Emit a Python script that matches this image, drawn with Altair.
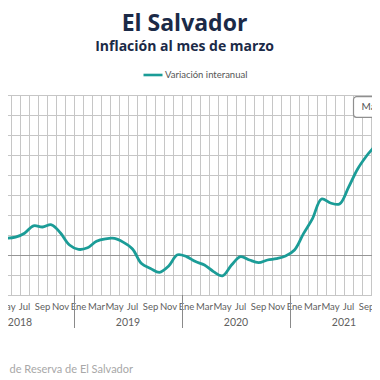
import altair as alt
import pandas as pd

# ---- data ----
MONTHS_ES = ["Ene", "Feb", "Mar", "Abr", "May", "Jun", "Jul", "Ago", "Sep", "Oct", "Nov", "Dic"]
START_YEAR = 2018
START_MONTH = 4  # abril 2018
inflacion_2018 = [0.88, 0.84, 0.89, 1.09, 1.46, 1.40, 1.51, 1.10, 0.50]
inflacion_2019 = [0.28, 0.36, 0.69, 0.81, 0.83, 0.63, 0.30, -0.43, -0.67, -0.87, -0.56, 0.01]
inflacion_2020 = [-0.08, -0.33, -0.50, -0.83, -1.04, -0.50, -0.08, -0.25, -0.38, -0.25, -0.18, -0.05]
inflacion_2021 = [0.25, 1.07, 1.82, 2.80, 2.60, 2.55, 3.38, 4.29, 4.95, 5.50, 6.30]
years = [2018, 2019, 2020, 2021]
y_grid = list(range(-2, 9))
serie = "Variación interanual"
titulo = "El Salvador"
subtitulo = "Inflación al mes de marzo"
fuente = "Fuente: Banco Central de Reserva de El Salvador"
tooltip_txt = "Mar. 2022"

values = inflacion_2018 + inflacion_2019 + inflacion_2020 + inflacion_2021
m0 = (START_YEAR - 2018) * 12 + START_MONTH - 1
t_center = [m0 + i + 0.5 for i in range(len(values))]

W, H = 364, 200
PX_PER_MONTH = 9.0
T0 = 12 - 66 / PX_PER_MONTH
T1 = T0 + W / PX_PER_MONTH
HALF = 0.5 / PX_PER_MONTH  # half-pixel so rules are crisp

line_df = pd.DataFrame({"t": t_center, "v": values, "serie": serie})
vgrid_df = pd.DataFrame({"t": [m + HALF for m in range(5, 46)]})
hgrid_df = pd.DataFrame({"v": [v - 0.5 / 20 for v in y_grid if v != 0]})
zero_df = pd.DataFrame({"v": [0 - 0.5 / 20]})
lab_m = [m for m in range(4, 47) if m % 2 == 0]
lab_df = pd.DataFrame({"t": [m + 0.5 for m in lab_m], "lab": [MONTHS_ES[m % 12] for m in lab_m]})
year_df = pd.DataFrame({"t": [(y - 2018) * 12 + 6 for y in years], "lab": [str(y) for y in years]})
sep_df = pd.DataFrame({"t": [(y - 2018) * 12 + HALF for y in years[1:]]})
one = pd.DataFrame({"a": [0]})

TEAL = "#1b9c97"
FONT = "Lato"
TFONT = "Open Sans"
xs = alt.Scale(domain=[T0, T1], nice=False, zero=False)
ys = alt.Scale(domain=[-2, 8], nice=False, zero=False)

vgrid = alt.Chart(vgrid_df).mark_rule(color="#c6c6c6", strokeWidth=1).encode(
    x=alt.X("t:Q", scale=xs, axis=None), y=alt.value(0), y2=alt.value(H))
hgrid = alt.Chart(hgrid_df).mark_rule(color="#c6c6c6", strokeWidth=1).encode(
    y=alt.Y("v:Q", scale=ys, axis=None), x=alt.value(0), x2=alt.value(W))
zero = alt.Chart(zero_df).mark_rule(color="#969696", strokeWidth=1).encode(
    y=alt.Y("v:Q", scale=ys, axis=None), x=alt.value(0), x2=alt.value(W))

line = alt.Chart(line_df).mark_line(strokeWidth=2.8, interpolate="catmull-rom", clip=True).encode(
    x=alt.X("t:Q", scale=xs, axis=None),
    y=alt.Y("v:Q", scale=ys, axis=None),
    color=alt.Color("serie:N", scale=alt.Scale(domain=[serie], range=[TEAL]),
                    legend=alt.Legend(orient="none", legendX=134, legendY=-31, title=None,
                                      symbolType="stroke", symbolSize=361, symbolStrokeWidth=2.6,
                                      labelFontSize=9.5, labelColor="#555555", labelFont=FONT,
                                      labelOffset=1, padding=0)))

mlabels = alt.Chart(lab_df).mark_text(fontSize=9.5, color="#606060", font=FONT, baseline="middle").encode(
    x=alt.X("t:Q", scale=xs, axis=None), y=alt.value(212), text="lab:N")
ylabels = alt.Chart(year_df).mark_text(fontSize=10.5, color="#606060", font=FONT, baseline="middle").encode(
    x=alt.X("t:Q", scale=xs, axis=None), y=alt.value(228), text="lab:N")
seps = alt.Chart(sep_df).mark_rule(color="#8a8a8a", strokeWidth=1).encode(
    x=alt.X("t:Q", scale=xs, axis=None), y=alt.value(H), y2=alt.value(233))

tip_box = alt.Chart(one).mark_rect(fill="white", stroke="#8f8f8f", strokeWidth=1.2, cornerRadius=3).encode(
    x=alt.value(345.5), x2=alt.value(420), y=alt.value(1.7), y2=alt.value(22.3))
tip_txt = alt.Chart(one).mark_text(text=tooltip_txt, align="left", baseline="middle", fontSize=10,
                                   color="#555555", font=FONT).encode(
    x=alt.value(353.5), y=alt.value(12))

t1 = alt.Chart(one).mark_text(text=titulo, align="center", baseline="alphabetic", fontSize=23,
                              fontWeight="bold", color="#1b2a47", font=TFONT).encode(
    x=alt.value(176.5), y=alt.value(-64))
t2 = alt.Chart(one).mark_text(text=subtitulo, align="center", baseline="alphabetic", fontSize=14,
                              fontWeight="bold", color="#1b2a47", font=TFONT).encode(
    x=alt.value(176.5), y=alt.value(-44.5))
src = alt.Chart(one).mark_text(text=fuente, align="right", baseline="middle", fontSize=11,
                               color="#a8a8a8", font=FONT).encode(
    x=alt.value(125), y=alt.value(275))

chart = alt.layer(vgrid, hgrid, zero, line, mlabels, ylabels, seps, tip_box, tip_txt, t1, t2, src).properties(
    width=W, height=H,
    padding={"left": 0, "top": 87, "right": 0, "bottom": 85},
    autosize=alt.AutoSizeParams(type="none"),
).configure_view(stroke=None)

chart.save("out.html", embed_options={"renderer": "svg", "actions": False})
